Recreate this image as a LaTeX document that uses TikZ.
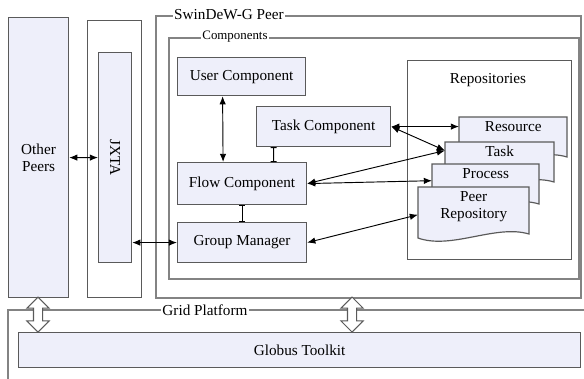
\documentclass[tikz,border=0pt]{standalone}
\usepackage{fontspec}
\setmainfont{Liberation Serif}
\newfontfamily\figfont{Liberation Serif}
\usepackage{tikz}
\usetikzlibrary{arrows.meta}
\usetikzlibrary{shapes.arrows}

\definecolor{boxfill}{RGB}{238,239,250}
\definecolor{boxline}{RGB}{90,90,90}

\tikzset{
  box/.style={draw=boxline, line width=1pt, fill=boxfill, inner sep=0pt, anchor=north west, align=center, font=\figfont\fontsize{13}{15}\selectfont},
  frame/.style={draw=boxline!75, line width=1.3pt},
  tag/.style={fill=white, inner sep=1pt, font=\figfont\fontsize{13}{15}\selectfont},
  wire/.style={line width=0.8pt},
  tee/.style={arrows={Bar[width=5pt]-Bar[width=5pt]}},
  bigarrow/.style={double arrow, draw=boxline, fill=white, line width=0.9pt, rotate=90, inner sep=1.2mm, minimum height=10.5mm, double arrow head extend=2mm}
}

\begin{document}
\begin{tikzpicture}[x=0.3mm, y=-0.3mm, >={Latex[length=7pt,width=5.5pt]}]
\useasboundingbox (0,0) rectangle (584,378);
\clip (0,0) rectangle (584,378);

\node[name=other, box, minimum width=18mm, minimum height=84mm] at (8,17) {Other\\Peers};
\node[name=jxtaout, box, fill=white, minimum width=16.2mm, minimum height=83.1mm] at (87,20) {};
\node[name=jxta, box, minimum width=9.9mm, minimum height=63mm] at (98,52) {\rotatebox{-90}{JXTA}};
\node[name=swpeer, box, frame, fill=white, minimum width=127.5mm, minimum height=84.6mm] at (155,15) {};
\node[name=swlbl, tag] at (229,15) {SwinDeW-G Peer};
\node[name=comps, box, frame, fill=white, minimum width=123mm, minimum height=72.3mm] at (168,37) {};
\node[name=compslbl, tag, font=\figfont\fontsize{11}{13}\selectfont] at (235,37) {Components};
\node[name=user, box, minimum width=38.4mm, minimum height=11.4mm] at (177,57) {User Component};
\node[name=tc, box, minimum width=40.2mm, minimum height=12mm] at (256,106) {Task Component};
\node[name=flow, box, minimum width=38.7mm, minimum height=12.6mm] at (177,162) {Flow Component};
\node[name=group, box, minimum width=38.7mm, minimum height=12mm] at (177,222) {Group Manager};
\node[name=repos, box, fill=white, minimum width=49.2mm, minimum height=59.7mm] at (407,60) {};
\node[name=reposlbl, font=\figfont\fontsize{13}{15}\selectfont] at (488,80) {Repositories};

\foreach \xa/\ya/\xb/\yb/\nm/\txt in {459/117/567/165/res/Resource, 445/142/554/190/tsk/Task, 432/164/539/212/proc/Process, 418/187/529/242/repo/{Peer\\Repository}}{
  \filldraw[draw=boxline, fill=boxfill, line width=1pt] (\xa,\ya) -- (\xb,\ya) -- (\xb,\yb-8) .. controls ({\xa+0.7*(\xb-\xa)},\yb-18) and ({\xa+0.3*(\xb-\xa)},\yb+8) .. (\xa,\yb-4) -- cycle;
  \node[name=\nm, anchor=north west, inner sep=0pt, minimum width={(\xb-\xa)*0.3mm}, minimum height={(\yb-\ya)*0.3mm},
    label={[anchor=north, align=center, font=\figfont\fontsize{13}{15}\selectfont]north:\txt}] at (\xa,\ya) {};
}

\draw[frame] (8,395) -- (8,310) -- (600,310);
\node[name=gridlbl, tag] at (205,310) {Grid Platform};
\node[name=globus, box, minimum width=168.6mm, minimum height=10.5mm] at (18,332) {Globus Toolkit};
\node[name=upA, bigarrow] at (38,314.5) {};
\node[name=upB, bigarrow] at (352,314.5) {};

\draw[wire] (other) edge[<->] (jxta);
\draw[wire] (jxta.east |- group.west) edge[<->] (group.west);
\draw[wire] ([xshift=-5.7mm]user.south) edge[<->] ([xshift=-5.7mm]flow.north);
\draw[wire] ([xshift=-15mm]tc.south) edge[tee] ([xshift=9.45mm]flow.north);
\draw[wire] (flow.south) edge[tee] (group.north);
\draw[wire] (tc.east) edge[<->] (tc.east -| res.west);
\draw[wire] (tc.east) edge[<->] (tsk.164);
\draw[wire] (flow.east) edge[<->] (tsk.164);
\draw[wire] (flow.east) edge[<->] (proc.172);
\draw[wire] (group.east) edge[<->] (repo.west);

\end{tikzpicture}
\end{document}
